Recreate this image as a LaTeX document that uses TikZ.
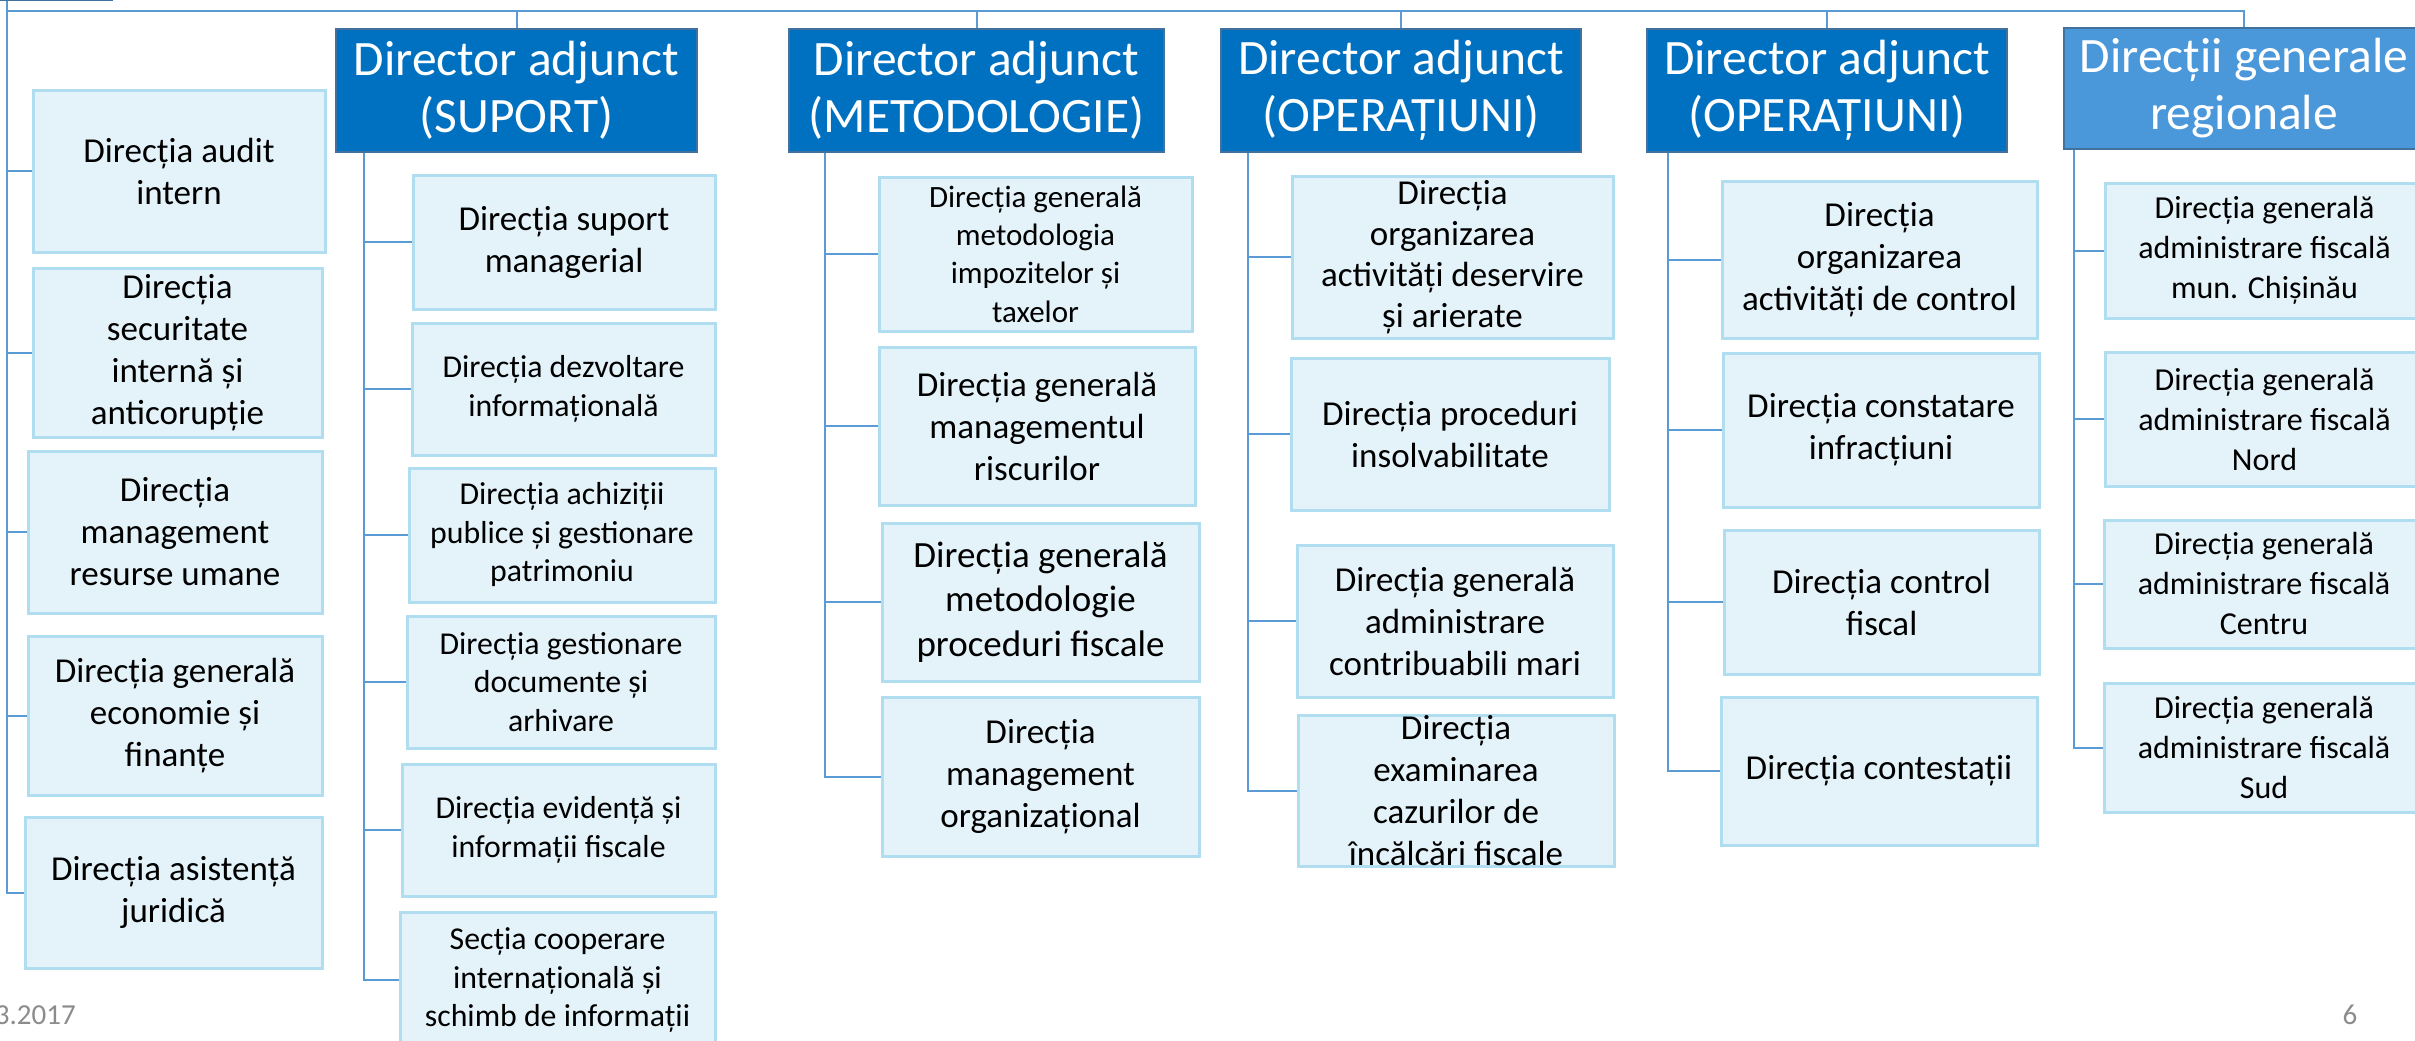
\documentclass[tikz,border=0pt]{standalone}
\usepackage{fontspec}
\setmainfont{Carlito}
\usepackage{tikz}

\definecolor{headfill}{RGB}{0,112,192}
\definecolor{regfill}{RGB}{74,151,218}
\definecolor{headline}{RGB}{65,113,156}
\definecolor{deptfill}{RGB}{228,243,249}
\definecolor{deptline}{RGB}{176,222,240}
\definecolor{linec}{RGB}{91,155,213}
\definecolor{greyc}{RGB}{140,140,140}

\tikzset{
  conn/.style={draw=linec, line width=2pt},
  dept/.style={draw=deptline, fill=deptfill, line width=3pt, align=center,
    inner sep=0pt, font=\fontsize{35}{42}\selectfont},
  smalltxt/.style={font=\fontsize{31.8}{38.5}\selectfont},
  regtxt/.style={font=\fontsize{32}{40}\selectfont},
  head/.style={draw=headline, fill=headfill, text=white, line width=2.5pt,
    align=center, inner sep=0pt, font=\fontsize{49.5}{57}\selectfont,
    minimum width=360pt, minimum height=123pt},
}

\begin{document}
\begin{tikzpicture}[x=1pt,y=-1pt]
    \useasboundingbox (0,0) rectangle (2415,1041);
    \fill[white] (0,0) rectangle (2415,1041);

    % top box, cut off by the page
    \node[head, minimum width=224pt, minimum height=100pt, anchor=south] (dirgen) at (0,1) {};

    % heads
    \node[head, minimum width=361pt] (suport) at (516.5,90.5) {Director adjunct\\(SUPORT)};
    \node[head, minimum width=375pt] (metod) at (976.5,90.5) {Director adjunct\\(METODOLOGIE)};
    \node[head] (oper) at (1401,90.5) {Director adjunct\\(OPERAȚIUNI)};
    \node[head] (operb) at (1827,90.5) {Director adjunct\\(OPERAȚIUNI)};
    \node[head, fill=regfill, minimum height=121pt] (regional) at (2244,88.5) {Direcții generale\\regionale};

    % left column
    \node[dept, minimum width=292pt, minimum height=162pt] (audit) at (179,171) {Direcția audit\\intern};
    \node[dept, minimum width=289pt, minimum height=169pt] (secur) at (177.5,352.5) {Direcția\\securitate\\internă și\\anticorupție};
    \node[dept, minimum width=294pt, minimum height=162pt] (resurse) at (175,532) {Direcția\\management\\resurse umane};
    \node[dept, minimum width=294pt, minimum height=159pt] (econ) at (175,715.5) {Direcția generală\\economie și\\finanțe};
    \node[dept, minimum width=297pt, minimum height=151pt] (asist) at (173.5,892.5) {Direcția asistență\\juridică};

    % SUPORT
    \node[dept, minimum width=302pt, minimum height=134pt] (supman) at (564,242) {Direcția suport\\managerial};
    \node[dept, smalltxt, minimum width=303pt, minimum height=132pt] (dezv) at (563.5,389) {Direcția dezvoltare\\informațională};
    \node[dept, smalltxt, minimum width=306pt, minimum height=134pt] (achiz) at (562,535) {Direcția achiziții\\publice și gestionare\\patrimoniu};
    \node[dept, smalltxt, minimum width=308pt, minimum height=132pt] (gest) at (561,682) {Direcția gestionare\\documente și\\arhivare};
    \node[dept, smalltxt, minimum width=313pt, minimum height=132pt] (evid) at (558.5,830) {Direcția evidență și\\informații fiscale};
    \node[dept, smalltxt, minimum width=315pt, minimum height=136pt] (sectia) at (557.5,980) {Secția cooperare\\internațională și\\schimb de informații};

    % METODOLOGIE
    \node[dept, font=\fontsize{31}{38.3}\selectfont, minimum width=313pt, minimum height=154pt] (impoz) at (1035.5,254) {Direcția generală\\metodologia\\impozitelor și\\taxelor};
    \node[dept, minimum width=316pt, minimum height=158pt] (riscuri) at (1037,426) {Direcția generală\\managementul\\riscurilor};
    \node[dept, font=\fontsize{37}{44.5}\selectfont, minimum width=317pt, minimum height=158pt] (proced) at (1040.5,602) {Direcția generală\\metodologie\\proceduri fiscale};
    \node[dept, minimum width=317pt, minimum height=159pt] (organiz) at (1040.5,776.5) {Direcția\\management\\organizațional};

    % OPERATIUNI
    \node[dept, font=\fontsize{35}{41}\selectfont, minimum width=321pt, minimum height=162pt] (deserv) at (1452.5,257) {Direcția\\organizarea\\activități deservire\\și arierate};
    \node[dept, minimum width=318pt, minimum height=152pt] (insolv) at (1450,434) {Direcția proceduri\\insolvabilitate};
    \node[dept, minimum width=316pt, minimum height=152pt] (contrib) at (1455,621) {Direcția generală\\administrare\\contribuabili mari};
    \node[dept, minimum width=316pt, minimum height=151pt] (examin) at (1456,790.5) {Direcția\\examinarea\\cazurilor de\\încălcări fiscale};

    % OPERATIUNI (2)
    \node[dept, minimum width=315pt, minimum height=157pt] (orgctrl) at (1879.5,259.5) {Direcția\\organizarea\\activități de control};
    \node[dept, minimum width=316pt, minimum height=154pt] (constat) at (1881,430) {Direcția constatare\\infracțiuni};
    \node[dept, minimum width=315pt, minimum height=144pt] (ctrlfisc) at (1881.5,602) {Direcția control\\fiscal};
    \node[dept, minimum width=316pt, minimum height=148pt] (contest) at (1879,771) {Direcția contestații};

    % regionale
    \node[dept, regtxt, minimum width=319pt, minimum height=135pt] (chis) at (2264.5,250.5) {Direcția generală\\administrare fiscală\\mun. Chișinău};
    \node[dept, regtxt, minimum width=319pt, minimum height=134pt] (nord) at (2264.5,419) {Direcția generală\\administrare fiscală\\Nord};
    \node[dept, regtxt, minimum width=320pt, minimum height=128pt] (centru) at (2264,584) {Direcția generală\\administrare fiscală\\Centru};
    \node[dept, regtxt, minimum width=320pt, minimum height=129pt] (sud) at (2264,747.5) {Direcția generală\\administrare fiscală\\Sud};

    % lines
    \coordinate (root) at (7,1);
    \coordinate (bus) at (7,11);
    \draw[conn] (bus) -| (regional.north);
    \foreach \h in {suport,metod,oper,operb}
        \draw[conn] (\h.north) -- (\h.north |- bus);
    \foreach \n in {audit,secur,resurse,econ,asist}
        \draw[conn] (root) |- (\n.west);

    \coordinate (supv) at ([xshift=29pt]suport.south west);
    \coordinate (metv) at ([xshift=37pt]metod.south west);
    \coordinate (opv) at ([xshift=28pt]oper.south west);
    \coordinate (opbv) at ([xshift=22pt]operb.south west);
    \coordinate (regv) at ([xshift=11pt]regional.south west);
    \foreach \n in {supman,dezv,achiz,gest,evid,sectia}
        \draw[conn] (supv) |- (\n.west);
    \foreach \n in {impoz,riscuri,proced,organiz}
        \draw[conn] (metv) |- (\n.west);
    \foreach \n in {deserv,insolv,contrib,examin}
        \draw[conn] (opv) |- (\n.west);
    \foreach \n in {orgctrl,constat,ctrlfisc,contest}
        \draw[conn] (opbv) |- (\n.west);
    \foreach \n in {chis,nord,centru,sud}
        \draw[conn] (regv) |- (\n.west);

    % footer
    \node[text=greyc, font=\fontsize{29}{35}\selectfont, anchor=base east, inner sep=0pt] (date) at (76,1024) {3.2017};
    \node[text=greyc, font=\fontsize{29}{35}\selectfont, anchor=base, inner sep=0pt] (page) at (2350,1024) {6};
\end{tikzpicture}
\end{document}
